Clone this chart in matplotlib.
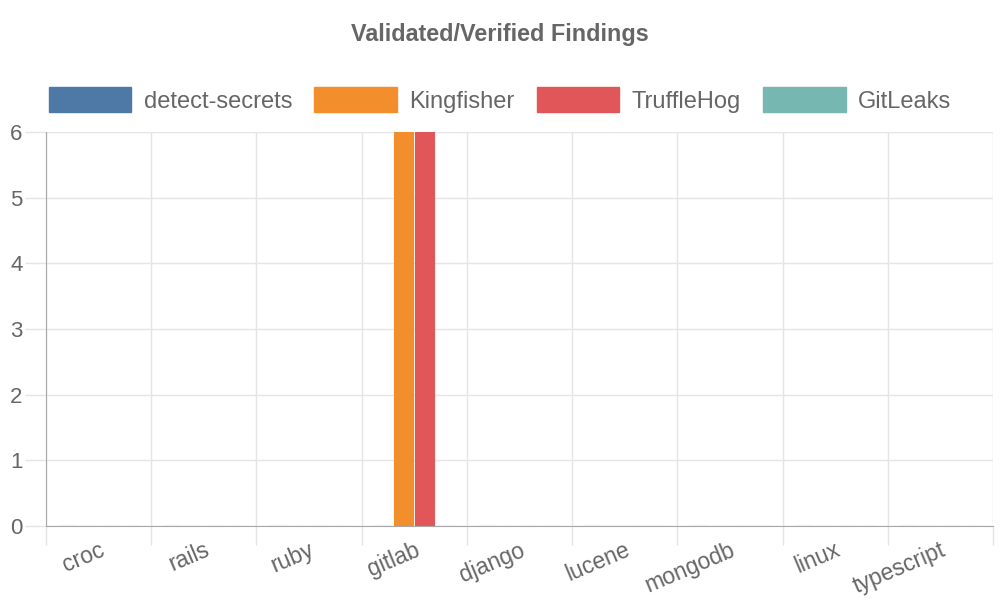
import numpy as np
import matplotlib
matplotlib.use("Agg")
import matplotlib.pyplot as plt
from matplotlib.patches import Patch

plt.rcParams['font.family'] = ['Liberation Sans', 'DejaVu Sans']

# data
repos = ["croc", "rails", "ruby", "gitlab", "django", "lucene", "mongodb", "linux", "typescript"]
tools = ["detect-secrets", "Kingfisher", "TruffleHog", "GitLeaks"]
detect_secrets = [0, 0, 0, 0, 0, 0, 0, 0, 0]
kingfisher = [0, 0, 0, 6, 0, 0, 0, 0, 0]
trufflehog = [0, 0, 0, 6, 0, 0, 0, 0, 0]
gitleaks = [0, 0, 0, 0, 0, 0, 0, 0, 0]
colors = ["#4e79a7", "#f28e2b", "#e15759", "#76b7b2"]

series = [detect_secrets, kingfisher, trufflehog, gitleaks]
txt = "#666666"
grid = "#e5e5e5"
axis = "#a8a8a8"

fig = plt.figure(figsize=(10, 6), dpi=100)
ax = fig.add_axes([0.046, 1 - 526 / 600, 0.947, (526 - 132) / 600])

x = np.arange(len(repos))
slot = 0.8 / len(series)
for i, (vals, c) in enumerate(zip(series, colors)):
    off = (i - 1.5) * slot
    ax.bar(x + off, vals, width=slot * 0.9, color=c, edgecolor=c, linewidth=0.8, zorder=3)

ax.set_xlim(-0.5, len(repos) - 0.5)
ax.set_ylim(0, 6)

# y axis
ax.set_yticks(range(0, 7))
ax.yaxis.grid(True, color=grid, linewidth=1, zorder=0)
ax.tick_params(axis='y', length=15, width=1, color=grid, labelsize=16, labelcolor=txt, pad=2)

# x axis: grid + ticks at category boundaries, labels at centers
ax.set_xticks(x)
ax.set_xticklabels(repos, rotation=23, ha='right', rotation_mode='anchor', fontsize=16.5, color=txt)
ax.tick_params(axis='x', which='major', length=0, pad=9)
ax.set_xticks(np.arange(len(repos) + 1) - 0.5, minor=True)
ax.tick_params(axis='x', which='minor', length=14, width=1, color=grid)
ax.xaxis.grid(True, which='minor', color=grid, linewidth=1, zorder=0)

for side in ['top', 'right']:
    ax.spines[side].set_visible(False)
ax.spines['left'].set_color(axis)
ax.spines['bottom'].set_color(axis)
ax.spines['left'].set_zorder(4)
ax.spines['bottom'].set_zorder(4)

fig.text(0.5, 1 - 34 / 600, "Validated/Verified Findings", ha='center', va='center',
         fontsize=16.8, fontweight='bold', color=txt)

handles = [Patch(facecolor=c, edgecolor=c) for c in colors]
leg = fig.legend(handles, tools, loc='center', bbox_to_anchor=(0.5, 1 - 100 / 600), ncol=4,
                 frameon=False, fontsize=17, handlelength=3.5, handleheight=1.25,
                 handletextpad=0.53, columnspacing=0.93, labelcolor=txt)

fig.savefig("out.png", dpi=100)
